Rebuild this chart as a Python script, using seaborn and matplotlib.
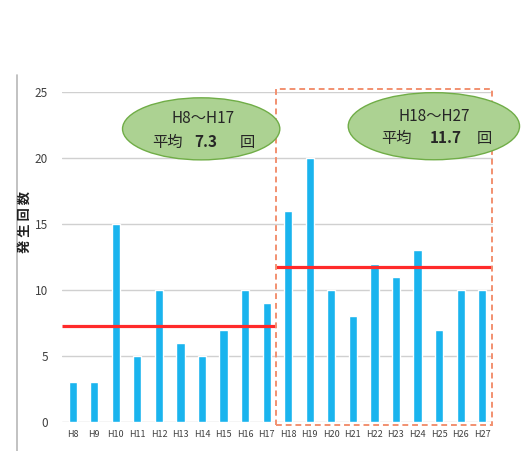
import numpy as np
import pandas as pd
import matplotlib
matplotlib.use("Agg")
import matplotlib.pyplot as plt
import seaborn as sns
from matplotlib.patches import Ellipse, Rectangle
from matplotlib.lines import Line2D

# data
years = ["H8", "H9", "H10", "H11", "H12", "H13", "H14", "H15", "H16", "H17",
         "H18", "H19", "H20", "H21", "H22", "H23", "H24", "H25", "H26", "H27"]
counts = [3, 3, 15, 5, 10, 6, 5, 7, 10, 9,
          16, 20, 10, 8, 12, 11, 13, 7, 10, 10]
period_labels = ["H8～H17", "H18～H27"]
y_ticks = [0, 5, 10, 15, 20, 25]

df = pd.DataFrame({"year": years, "count": counts})
first = df.iloc[:10]
second = df.iloc[10:]
mean1 = first["count"].mean()
mean2 = second["count"].mean()

sns.set_style("white")
plt.rcParams['font.family'] = ['Noto Sans CJK JP', 'DejaVu Sans']

fig = plt.figure(figsize=(5.23, 4.51), dpi=100)
ax = fig.add_axes([0.1185, 0.0643, 0.824, 0.732])

# grid lines behind bars
for t in y_ticks:
    ax.axhline(t, color="#d0d0d0", lw=1, zorder=0)

sns.barplot(data=df, x="year", y="count", color="#1ab4ee", width=0.38,
            saturation=1, ax=ax, zorder=2)

ax.set_ylim(0, 25)
ax.set_xlim(-0.5, len(years) - 0.5)
ax.set_yticks(y_ticks)
ax.tick_params(axis="y", labelsize=8.5, colors="#404040", length=0, pad=10)
ax.tick_params(axis="x", labelsize=6.5, colors="#404040", length=0, pad=6)
ax.set_xlabel("")
ax.set_ylabel("")
for s in ax.spines.values():
    s.set_visible(False)

# average lines
split = 9.45
ax.hlines(mean1, -0.5, split, color="#ff2a2a", lw=2.3, zorder=3)
ax.hlines(mean2, split, len(years) - 0.5, color="#ff2a2a", lw=2.3, zorder=3)

# dashed frame around second period
ax.add_patch(Rectangle((split, -0.2), len(years) - 0.55 - split, 25.45,
                       fill=False, ls=(0, (3, 2)), lw=1.4, ec="#f29070",
                       clip_on=False, zorder=4))

# green callouts
ax.add_patch(Ellipse((5.96, 22.2), 7.3, 4.7, fc="#acd292", ec="#70ad47",
                     lw=1, clip_on=False, zorder=5))
ax.add_patch(Ellipse((16.76, 22.4), 7.95, 5.08, fc="#acd292", ec="#70ad47",
                     lw=1, clip_on=False, zorder=5))

ax.text(6.06, 23.0, period_labels[0], ha="center", va="center", fontsize=11, zorder=6)
ax.text(4.38, 21.2, "平均", ha="center", va="center", fontsize=11, zorder=6)
ax.text(6.19, 21.2, f"{mean1:.1f}", ha="center", va="center", fontsize=11,
        fontweight="bold", zorder=6)
ax.text(8.1, 21.2, "回", ha="center", va="center", fontsize=11, zorder=6)

ax.text(16.8, 23.1, period_labels[1], ha="center", va="center", fontsize=11, zorder=6)
ax.text(15.0, 21.5, "平均", ha="center", va="center", fontsize=11, zorder=6)
ax.text(17.3, 21.5, f"{mean2:.1f}", ha="center", va="center", fontsize=11,
        fontweight="bold", zorder=6)
ax.text(19.1, 21.5, "回", ha="center", va="center", fontsize=11, zorder=6)

# y label
fig.text(25 / 523, 1 - 222 / 451, "発 生 回 数", rotation=90, ha="center",
         va="center", fontsize=9.5, fontweight="bold", color="#202020")

# outer frame line at left
fig.add_artist(Line2D([17 / 523, 17 / 523], [0, 1 - 75 / 451],
                      color="#b8b8b8", lw=1.2))

fig.savefig("out.png", dpi=100)
